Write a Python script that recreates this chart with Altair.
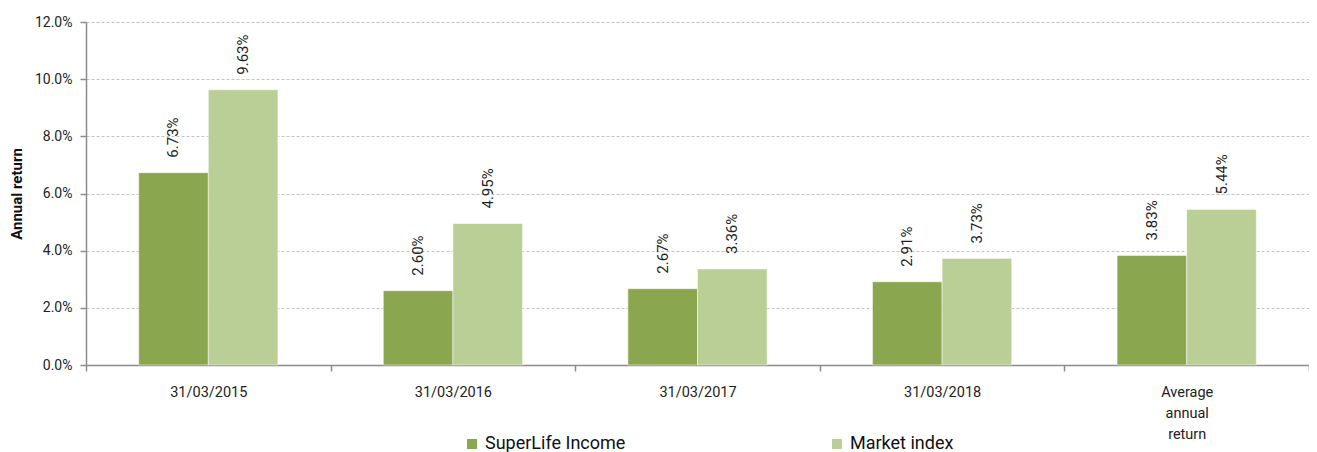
import altair as alt
import pandas as pd

categories = ["31/03/2015", "31/03/2016", "31/03/2017", "31/03/2018", "Average annual return"]
series = ["SuperLife Income", "Market index"]
superlife = [0.0673, 0.0260, 0.0267, 0.0291, 0.0383]
market = [0.0963, 0.0495, 0.0336, 0.0373, 0.0544]
colors = ["#8aa64f", "#bacf96"]
y_ticks = [0.0, 0.02, 0.04, 0.06, 0.08, 0.10, 0.12]

rows = []
for c, a, b in zip(categories, superlife, market):
    rows.append({"category": c, "series": series[0], "value": a})
    rows.append({"category": c, "series": series[1], "value": b})
df = pd.DataFrame(rows)

FONT = "Roboto"

base = alt.Chart(df).encode(
    x=alt.X(
        "category:N",
        sort=categories,
        title=None,
        scale=alt.Scale(paddingInner=0, paddingOuter=0),
        axis=alt.Axis(
            labelAngle=0,
            labelFontSize=14.5,
            labelColor="#222222",
            labelFont=FONT,
            labelPadding=14,
            labelLineHeight=21,
            labelExpr="datum.label == 'Average annual return' ? ['Average', 'annual', 'return'] : datum.label",
            tickBand="extent",
            tickSize=6,
            tickColor="#8c8c8c",
            tickWidth=1.5,
            domainColor="#8c8c8c",
            domainWidth=1.5,
            grid=False,
        ),
    ),
    xOffset=alt.XOffset("series:N", sort=series,
                        scale=alt.Scale(paddingInner=0, paddingOuter=0.757)),
)

bars = base.mark_bar(stroke="white", strokeWidth=0.5).encode(
    y=alt.Y(
        "value:Q",
        title="Annual return",
        scale=alt.Scale(domain=[0, 0.12], nice=False),
        axis=alt.Axis(
            values=y_ticks,
            format=".1%",
            labelFontSize=14,
            labelColor="#222222",
            labelFont=FONT,
            labelPadding=8,
            titleFont=FONT,
            titleFontSize=15,
            titleFontWeight="bold",
            titleColor="#111111",
            titlePadding=10,
            tickSize=6,
            tickColor="#8c8c8c",
            tickWidth=1.5,
            domainColor="#8c8c8c",
            domainWidth=1.5,
            gridColor="#b5b5b5",
            gridDash=[3, 2],
            gridWidth=0.8,
        ),
    ),
    color=alt.Color(
        "series:N",
        sort=series,
        scale=alt.Scale(domain=series, range=colors),
        legend=alt.Legend(
            title=None,
            orient="none",
            direction="horizontal",
            legendX=377,
            legendY=413,
            symbolType="square",
            symbolSize=100,
            symbolStrokeWidth=0,
            labelFontSize=18,
            labelFont=FONT,
            labelColor="#111111",
            columnPadding=202,
            padding=0,
            labelOffset=4,
        ),
    ),
)

labels = base.mark_text(
    angle=270, align="left", baseline="middle", dx=15, fontSize=15, font=FONT, color="#222222"
).encode(
    y=alt.Y("value:Q"),
    text=alt.Text("value:Q", format=".2%"),
)

chart = (
    alt.layer(bars, labels)
    .properties(width=1223, height=343, padding={"left": 78, "top": 14, "right": 0, "bottom": 88},
                autosize=alt.AutoSizeParams(type="none"))
    .configure_view(stroke=None)
)

chart.save("out.html", embed_options={"renderer": "svg", "actions": False})
